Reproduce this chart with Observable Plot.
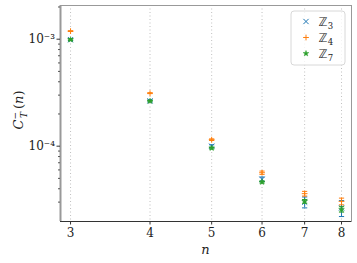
<!DOCTYPE html>
<html><head><meta charset="utf-8">
<script src="https://cdn.jsdelivr.net/npm/d3@7"></script>
<script src="https://cdn.jsdelivr.net/npm/@observablehq/plot@0.6"></script>
<style>body{margin:0;background:#fff}</style>
</head><body><div id="chart"></div>
<script>
// data
const nValues = [3, 4, 5, 6, 7, 8];
const z3Values = [0.99e-3, 2.65e-4, 1.0e-4, 4.9e-5, 3.0e-5, 2.65e-5];
const z3Errors = [0.02e-3, 0.06e-4, 0.03e-4, 0.25e-5, 0.35e-5, 0.45e-5];
const z4Values = [1.19e-3, 3.13e-4, 1.15e-4, 5.65e-5, 3.6e-5, 3.05e-5];
const z4Errors = [0.01e-3, 0.03e-4, 0.02e-4, 0.2e-5, 0.18e-5, 0.22e-5];
const z7Values = [0.99e-3, 2.64e-4, 0.96e-4, 4.62e-5, 3.05e-5, 2.57e-5];
const z7Errors = [0.02e-3, 0.04e-4, 0.02e-4, 0.1e-5, 0.12e-5, 0.15e-5];
const seriesNames = ["3", "4", "7"];
const seriesColors = ["#1f77b4", "#ff7f0e", "#2ca02c"];
const xTicks = [3, 4, 5, 6, 7, 8];
const yMajorTicks = [1e-4, 1e-3];
const yMajorLabels = ["10⁻⁴", "10⁻³"];
const yMinorTicks = [3e-5, 4e-5, 5e-5, 6e-5, 7e-5, 8e-5, 9e-5, 2e-4, 3e-4, 4e-4, 5e-4, 6e-4, 7e-4, 8e-4, 9e-4, 2e-3];

const W = 357, H = 263;
const margin = {left: 60, right: 6, top: 5, bottom: 42};
const xDomain = [2.893, 8.294];
const yDomain = [1.977e-5, 2.065e-3];

const allVals = [z3Values, z4Values, z7Values];
const allErrs = [z3Errors, z4Errors, z7Errors];
const symbols = ["times", "plus", "star"];
const symR = {times: 2.5, plus: 2.0, star: 1.8};
function rowsFor(i) {
  return nValues.map((n, j) => ({n, v: allVals[i][j], e: allErrs[i][j]}));
}
const cap = {draw(ctx, size) { const w = Math.sqrt(size / Math.PI); ctx.moveTo(-w, 0); ctx.lineTo(w, 0); }};

const marks = [
  Plot.gridX(xTicks, {stroke: "#b0b0b0", strokeOpacity: 1, strokeDasharray: "1,2.5", strokeWidth: 0.8}),
  Plot.frame({stroke: "#999", strokeWidth: 1}),
  Plot.ruleX([xDomain[0]], {stroke: "#999", strokeWidth: 2}),
  Plot.ruleY([yDomain[0]], {stroke: "#333", strokeWidth: 1.2}),
  Plot.axisX({ticks: xTicks, tickFormat: d => String(d), tickSize: 3.5, tickPadding: 3, label: null, stroke: "#333"}),
  Plot.axisY({ticks: yMajorTicks, tickFormat: d => yMajorLabels[yMajorTicks.indexOf(d)], tickSize: 3.5, tickPadding: 2, label: null, stroke: "#333", fontSize: 12}),
  Plot.axisY({ticks: yMinorTicks, tickFormat: () => "", tickSize: 2, label: null, stroke: "#555"})
];
[0, 1, 2].forEach(i => {
  const rows = rowsFor(i);
  const c = seriesColors[i];
  marks.push(Plot.ruleX(rows, {x: "n", y1: d => d.v - d.e, y2: d => d.v + d.e, stroke: c, strokeWidth: 1}));
  marks.push(Plot.dot(rows, {x: "n", y: d => d.v - d.e, symbol: cap, r: 2.6, stroke: c, fill: "none", strokeWidth: 1}));
  marks.push(Plot.dot(rows, {x: "n", y: d => d.v + d.e, symbol: cap, r: 2.6, stroke: c, fill: "none", strokeWidth: 1}));
  if (symbols[i] === "star") {
    marks.push(Plot.dot(rows, {x: "n", y: "v", symbol: "star", r: symR.star, fill: c, stroke: c, strokeWidth: 0.5}));
  } else {
    marks.push(Plot.dot(rows, {x: "n", y: "v", symbol: symbols[i], r: symR[symbols[i]], stroke: c, fill: "none", strokeWidth: 1}));
  }
});

const plot = Plot.plot({
  width: W, height: H,
  marginLeft: margin.left, marginRight: margin.right, marginTop: margin.top, marginBottom: margin.bottom,
  style: {fontFamily: "DejaVu Serif", fontSize: "12px", color: "#222", background: "#fff"},
  x: {type: "log", domain: xDomain},
  y: {type: "log", domain: yDomain},
  marks
});
document.getElementById("chart").appendChild(plot);

const svg = d3.select(plot);
// x label
svg.append("text").attr("x", (margin.left + W - margin.right) / 2).attr("y", 254)
  .attr("text-anchor", "middle").attr("font-family", "DejaVu Serif").attr("font-style", "italic")
  .attr("font-size", 13).attr("fill", "#222").text("n");
// y label
const yl = svg.append("text").attr("transform", `translate(23,${(margin.top + H - margin.bottom) / 2 - 3}) rotate(-90)`)
  .attr("text-anchor", "middle").attr("font-family", "DejaVu Serif").attr("font-size", 13).attr("fill", "#222");
yl.append("tspan").attr("font-style", "italic").text("C");
yl.append("tspan").attr("font-size", 9).attr("dy", -5).text("−");
yl.append("tspan").attr("font-size", 9).attr("font-style", "italic").attr("dx", -6).attr("dy", 9).text("T");
yl.append("tspan").attr("dy", -4).attr("dx", 3).text("(");
yl.append("tspan").attr("font-style", "italic").text("n");
yl.append("tspan").text(")");

// legend
const lg = svg.append("g");
lg.append("rect").attr("x", 291).attr("y", 11).attr("width", 54).attr("height", 54).attr("rx", 3)
  .attr("fill", "#fff").attr("fill-opacity", 0.8).attr("stroke", "#d8d8d8");
const symMap = {times: d3.symbolTimes, plus: d3.symbolPlus, star: d3.symbolStar};
[0, 1, 2].forEach(i => {
  const y = 21.5 + i * 16;
  const isStar = symbols[i] === "star";
  const r = symR[symbols[i]];
  lg.append("path").attr("transform", `translate(306,${y})`)
    .attr("d", d3.symbol(symMap[symbols[i]], Math.PI * r * r)())
    .attr("fill", isStar ? seriesColors[i] : "none").attr("stroke", seriesColors[i]).attr("stroke-width", isStar ? 0.5 : 1);
  const t = lg.append("text").attr("x", 326).attr("y", y + 4).attr("font-size", 12).attr("fill", "#222");
  t.append("tspan").attr("font-family", "DejaVu Sans").text("ℤ");
  t.append("tspan").attr("font-family", "DejaVu Serif").attr("font-size", 8.5).attr("dy", 3).text(seriesNames[i]);
});
</script></body></html>
